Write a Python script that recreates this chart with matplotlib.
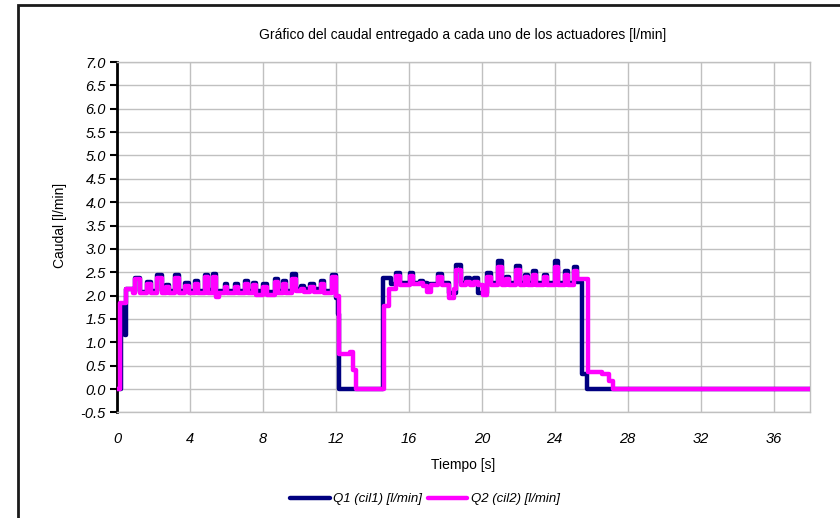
import matplotlib
matplotlib.use("Agg")
import matplotlib.pyplot as plt
from matplotlib.patches import Rectangle
from matplotlib.ticker import MultipleLocator, FormatStrFormatter

plt.rcParams["font.family"] = ["Liberation Sans", "DejaVu Sans"]

# Flow delivered to actuator 1 (time [s], flow [l/min]), step samples
t_q1 = [0.00, 0.22, 0.45, 0.52, 0.95, 1.00, 1.25, 1.65, 1.85, 2.20,
        2.45, 2.70, 2.85, 3.20, 3.40, 3.75, 3.95, 4.30, 4.45, 4.80,
        5.00, 5.25, 5.45, 5.60, 5.90, 6.05, 6.45, 6.65, 7.00, 7.20,
        7.45, 7.60, 8.00, 8.20, 8.65, 8.85, 9.10, 9.25, 9.60, 9.80,
        10.10, 10.25, 10.60, 10.80, 11.20, 11.35, 11.80, 12.00, 12.10, 12.20,
        14.60, 15.00, 15.30, 15.50, 16.05, 16.25, 16.60, 16.80, 17.00, 17.60,
        17.80, 18.20, 18.60, 18.85, 19.15, 19.35, 19.60, 19.80, 20.30, 20.50,
        20.90, 21.10, 21.35, 21.50, 21.90, 22.10, 22.35, 22.55, 22.80, 23.00,
        23.40, 23.60, 24.00, 24.20, 24.55, 24.75, 25.05, 25.25, 25.50, 25.75,
        38.00]
q1 = [0.00, 1.82, 1.15, 2.15, 2.10, 2.37, 2.08, 2.30, 2.10, 2.44,
      2.10, 2.23, 2.10, 2.44, 2.10, 2.26, 2.10, 2.32, 2.10, 2.45,
      2.12, 2.47, 2.02, 2.10, 2.24, 2.10, 2.24, 2.10, 2.32, 2.10,
      2.28, 2.10, 2.24, 2.08, 2.35, 2.10, 2.32, 2.10, 2.47, 2.15,
      2.20, 2.15, 2.24, 2.15, 2.32, 2.10, 2.45, 1.95, 1.60, 0.00,
      2.38, 2.25, 2.48, 2.26, 2.48, 2.28, 2.32, 2.26, 2.24, 2.46,
      2.26, 2.05, 2.66, 2.26, 2.37, 2.26, 2.37, 2.05, 2.48, 2.26,
      2.73, 2.26, 2.40, 2.26, 2.63, 2.26, 2.45, 2.26, 2.52, 2.26,
      2.45, 2.26, 2.73, 2.26, 2.52, 2.26, 2.62, 2.30, 0.33, 0.00,
      0.00]

# Flow delivered to actuator 2 (time [s], flow [l/min]), step samples
t_q2 = [0.00, 0.18, 0.48, 0.90, 1.00, 1.25, 1.65, 1.85, 2.20, 2.45,
        2.70, 2.85, 3.20, 3.40, 3.75, 3.95, 4.30, 4.45, 4.80, 5.00,
        5.25, 5.45, 5.60, 5.90, 6.05, 6.45, 6.65, 7.00, 7.20, 7.45,
        7.60, 8.00, 8.20, 8.65, 8.85, 9.10, 9.25, 9.60, 9.80, 10.10,
        10.25, 10.60, 10.80, 11.20, 11.35, 11.80, 12.00, 12.15, 12.80, 12.95,
        13.10, 14.62, 14.90, 15.30, 15.50, 16.05, 16.25, 16.60, 16.80, 17.00,
        17.20, 17.60, 17.80, 18.20, 18.50, 18.60, 18.85, 19.15, 19.35, 19.60,
        19.80, 20.05, 20.30, 20.50, 20.90, 21.10, 21.35, 21.50, 21.90, 22.10,
        22.35, 22.55, 22.80, 23.00, 23.40, 23.60, 24.00, 24.20, 24.55, 24.75,
        25.05, 25.25, 25.82, 26.60, 27.00, 27.20, 38.00]
q2 = [0.00, 1.85, 2.15, 2.05, 2.35, 2.05, 2.25, 2.05, 2.38, 2.05,
      2.18, 2.05, 2.38, 2.05, 2.20, 2.05, 2.25, 2.05, 2.40, 2.05,
      2.40, 1.97, 2.05, 2.18, 2.05, 2.18, 2.05, 2.25, 2.05, 2.22,
      2.02, 2.18, 2.02, 2.30, 2.05, 2.25, 2.05, 2.35, 2.10, 2.15,
      2.08, 2.18, 2.08, 2.25, 2.05, 2.40, 2.00, 0.76, 0.80, 0.40,
      0.00, 1.78, 2.15, 2.42, 2.22, 2.42, 2.25, 2.28, 2.20, 2.08,
      2.22, 2.40, 2.22, 1.95, 2.15, 2.55, 2.22, 2.30, 2.22, 2.30,
      2.22, 2.02, 2.40, 2.22, 2.62, 2.22, 2.35, 2.22, 2.55, 2.22,
      2.40, 2.22, 2.45, 2.22, 2.40, 2.22, 2.62, 2.22, 2.45, 2.22,
      2.52, 2.35, 0.37, 0.33, 0.18, 0.00, 0.00]

title = "Gráfico del caudal entregado a cada uno de los actuadores [l/min]"
label_q1 = "Q1 (cil1) [l/min]"
label_q2 = "Q2 (cil2) [l/min]"

W, H = 840, 518
fig = plt.figure(figsize=(W / 100, H / 100), dpi=100)

# outer chart frame (only left/top edges fall inside the image)
fig.patches.append(Rectangle((18 / W, -0.05), 1.2, 1 - 5 / H + 0.05,
                             transform=fig.transFigure, fill=False,
                             edgecolor="#1a1a1a", linewidth=2.0))

x0, x1, y0, y1 = 117, 810, 62, 412.4
ax = fig.add_axes([x0 / W, 1 - y1 / H, (x1 - x0) / W, (y1 - y0) / H])

ax.plot(t_q1, q1, drawstyle="steps-post", color="#000080", lw=3.2,
        solid_joinstyle="round", solid_capstyle="round", label=label_q1, zorder=3)
ax.plot(t_q2, q2, drawstyle="steps-post", color="#ff00ff", lw=3.2,
        solid_joinstyle="round", solid_capstyle="round", label=label_q2, zorder=4)

ax.set_xlim(0, 38)
ax.set_ylim(-0.5, 7.0)
ax.xaxis.set_major_locator(MultipleLocator(4))
ax.yaxis.set_major_locator(MultipleLocator(0.5))
ax.yaxis.set_major_formatter(FormatStrFormatter("%.1f"))
ax.grid(True, color="#c0c0c0", lw=1.0)
ax.set_axisbelow(True)

for side in ("top", "right", "bottom"):
    ax.spines[side].set_color("#c0c0c0")
    ax.spines[side].set_linewidth(1.0)
ax.spines["left"].set_color("black")
ax.spines["left"].set_linewidth(2.0)

ax.tick_params(axis="y", direction="out", length=5, width=1.5, labelsize=10.5, pad=3)
ax.tick_params(axis="x", length=0, labelsize=10.5, pad=14)
for lbl in ax.get_xticklabels() + ax.get_yticklabels():
    lbl.set_fontstyle("italic")

fig.text(463 / W, 1 - 35 / H, title, ha="center", va="center", fontsize=10)
fig.text(463 / W, 1 - 465 / H, "Tiempo [s]", ha="center", va="center", fontsize=10)
fig.text(60 / W, 1 - 225 / H, "Caudal [l/min]", ha="center", va="center",
         rotation=90, fontsize=10)

leg = fig.legend(loc="center", bbox_to_anchor=(425 / W, 1 - 499 / H), ncol=2,
                 frameon=False, handlelength=3.0, columnspacing=0.4,
                 handletextpad=0.3, prop={"style": "italic", "size": 9.5})

fig.savefig("out.png", dpi=100)
